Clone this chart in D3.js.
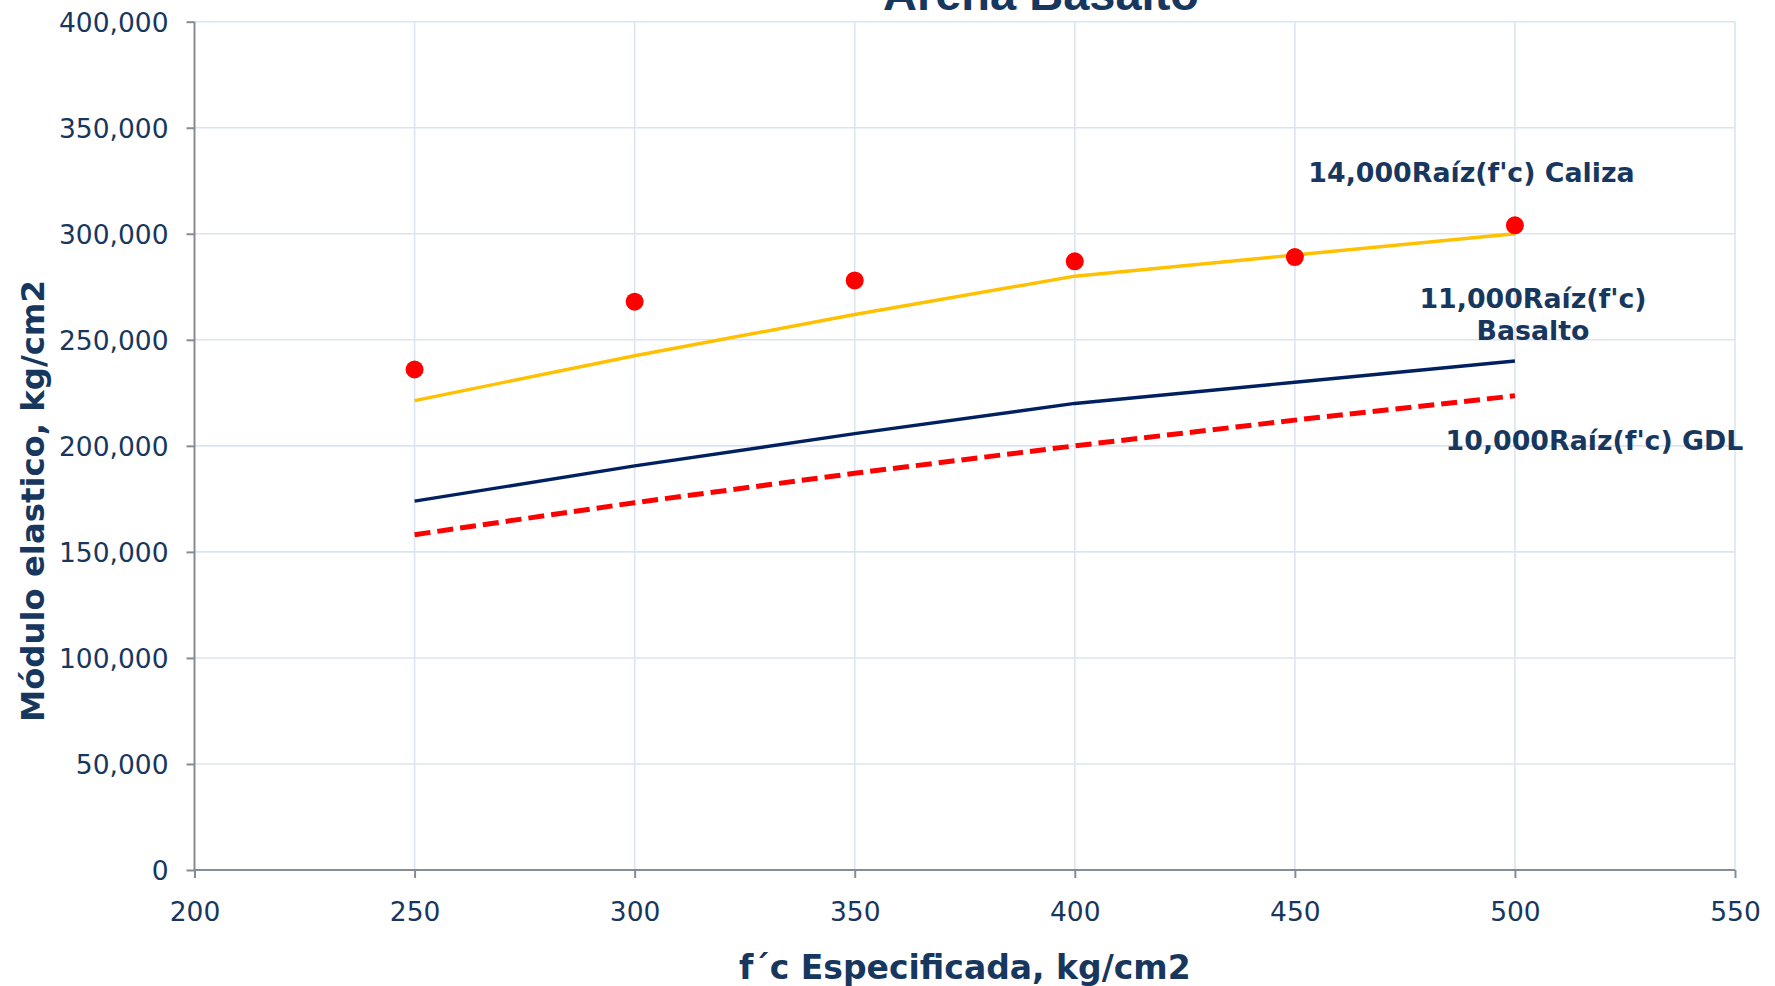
<!DOCTYPE html>
<html>
<head>
<meta charset="utf-8">
<script src="https://cdn.jsdelivr.net/npm/d3@7"></script>
<style>
  html, body { margin: 0; padding: 0; background: #ffffff; }
  svg { display: block; }
</style>
</head>
<body>
<svg id="chart" width="1775" height="986"></svg>
<script>
// f'c specified strength, kg/cm2
const fcValues = [250, 300, 350, 400, 450, 500];

// Measured modulus for sand/basalt mixes
const measured = [236000, 268000, 278000, 287000, 289000, 304000];

// Reference curves
const caliza14000 = [221359, 242487, 261916, 280000, 290000, 300000];
const basalto11000 = [173925, 190526, 205791, 220000, 230000, 240000];
const gdl10000 = [158114, 173205, 187083, 200000, 212132, 223607];

const xTicks = [200, 250, 300, 350, 400, 450, 500, 550];
const yTicks = [0, 50000, 100000, 150000, 200000, 250000, 300000, 350000, 400000];

const chartTitle = "Arena Basalto";
const xTitle = "f\u00b4c Especificada, kg/cm2";
const yTitle = "Módulo elastico, kg/cm2";
const curveLabels = {
  caliza: ["14,000Raíz(f'c) Caliza"],
  basalto: ["11,000Raíz(f'c)", "Basalto"],
  gdl: ["10,000Raíz(f'c) GDL"]
};

const svg = d3.select("#chart");
const plot = { left: 194.5, right: 1735, top: 21.7, bottom: 870 };
const textColor = "#17375e";
const tickFont = "'DejaVu Sans', Verdana, sans-serif";

const x = d3.scaleLinear().domain([200, 550]).range([plot.left, plot.right]);
const y = d3.scaleLinear().domain([0, 400000]).range([plot.bottom, plot.top]);

svg.append("rect").attr("width", 1775).attr("height", 986).attr("fill", "#ffffff");

// Gridlines
const grid = svg.append("g").attr("stroke", "#dbe5f1").attr("stroke-width", 1.6);
grid.selectAll("line.h").data(yTicks.filter(d => d > 0)).join("line")
  .attr("x1", plot.left).attr("x2", plot.right)
  .attr("y1", d => y(d)).attr("y2", d => y(d));
grid.selectAll("line.v").data(xTicks.filter(d => d > 200)).join("line")
  .attr("x1", d => x(d)).attr("x2", d => x(d))
  .attr("y1", plot.top).attr("y2", plot.bottom);

// Axes
const fmt = d3.format(",");
const xAxis = svg.append("g")
  .attr("transform", `translate(0,${plot.bottom})`)
  .call(d3.axisBottom(x).tickValues(xTicks).tickSize(8).tickPadding(24).tickFormat(d => d));
const yAxis = svg.append("g")
  .attr("transform", `translate(${plot.left},0)`)
  .call(d3.axisLeft(y).tickValues(yTicks).tickSize(8).tickPadding(18).tickFormat(fmt));

[xAxis, yAxis].forEach(ax => {
  ax.select(".domain").attr("stroke", "#868b96").attr("stroke-width", 2);
  ax.selectAll(".tick line").attr("stroke", "#868b96").attr("stroke-width", 2);
  ax.selectAll(".tick text")
    .attr("fill", textColor)
    .style("font-family", tickFont)
    .style("font-size", "26.5px");
});
xAxis.select(".domain").attr("d", `M${plot.left},0H${plot.right}`);
yAxis.select(".domain").attr("d", `M0,${plot.top}V${plot.bottom}`);
yAxis.selectAll(".tick text").attr("dy", "0.36em");

// Curves
const line = d3.line().x((d, i) => x(fcValues[i])).y(d => y(d));
svg.append("path").datum(caliza14000)
  .attr("d", line).attr("fill", "none")
  .attr("stroke", "#ffc000").attr("stroke-width", 3.4);
svg.append("path").datum(basalto11000)
  .attr("d", line).attr("fill", "none")
  .attr("stroke", "#002060").attr("stroke-width", 3.4);
svg.append("path").datum(gdl10000)
  .attr("d", line).attr("fill", "none")
  .attr("stroke", "#ff0000").attr("stroke-width", 5)
  .attr("stroke-dasharray", "16,7");

// Measured points
svg.append("g").selectAll("circle").data(measured).join("circle")
  .attr("cx", (d, i) => x(fcValues[i]))
  .attr("cy", d => y(d))
  .attr("r", 9)
  .attr("fill", "#ff0000");

// Curve labels
const labelStyle = sel => sel
  .attr("fill", textColor)
  .attr("text-anchor", "middle")
  .style("font-family", tickFont)
  .style("font-weight", "bold")
  .style("font-size", "26.8px");

svg.append("text").text(curveLabels.caliza[0])
  .attr("x", 1471.5).attr("y", 182).call(labelStyle);
const basaltoLabel = svg.append("text").call(labelStyle);
basaltoLabel.selectAll("tspan").data(curveLabels.basalto).join("tspan")
  .attr("x", 1533).attr("y", (d, i) => 307.5 + i * 32.5).text(d => d);
svg.append("text").text(curveLabels.gdl[0])
  .attr("x", 1594.5).attr("y", 450).call(labelStyle);

// Titles
svg.append("text").text(chartTitle)
  .attr("x", 1041).attr("y", 10)
  .attr("text-anchor", "middle")
  .attr("fill", textColor)
  .style("font-family", "'Liberation Sans', Arial, sans-serif")
  .style("font-weight", "bold")
  .style("font-size", "47px");

svg.append("text").text(xTitle)
  .attr("x", (plot.left + plot.right) / 2).attr("y", 979)
  .attr("text-anchor", "middle")
  .attr("fill", textColor)
  .style("font-family", tickFont)
  .style("font-weight", "bold")
  .style("font-size", "33px");

svg.append("text").text(yTitle)
  .attr("transform", "translate(44,501) rotate(-90)")
  .attr("text-anchor", "middle")
  .attr("fill", textColor)
  .style("font-family", tickFont)
  .style("font-weight", "bold")
  .style("font-size", "32.3px");
</script>
</body>
</html>
